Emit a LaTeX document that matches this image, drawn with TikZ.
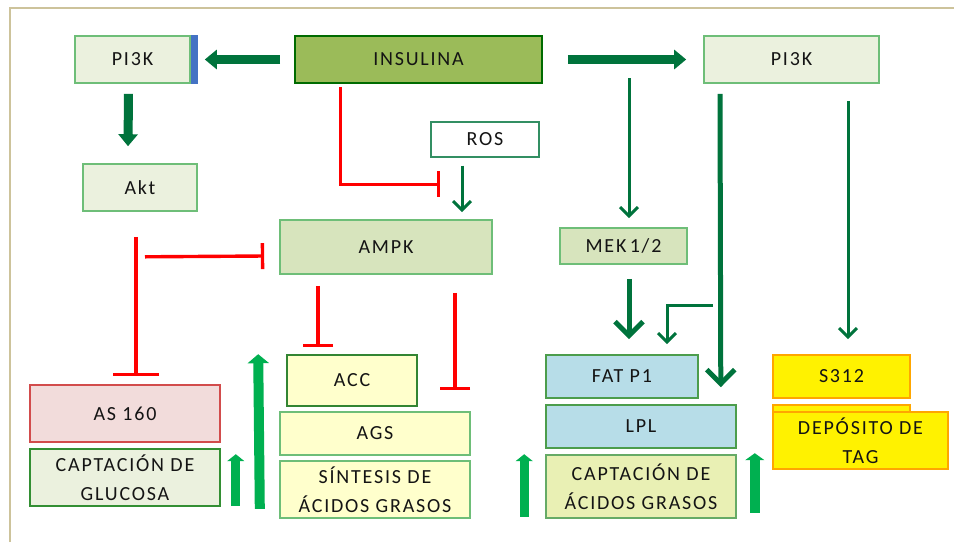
\documentclass[tikz,border=0pt]{standalone}
\usepackage{fontspec}
\setmainfont{Carlito}[LetterSpace=9]
\usetikzlibrary{arrows.meta,calc}
\definecolor{frameC}{RGB}{205,195,155}
\definecolor{dkg}{RGB}{0,115,60}
\definecolor{brg}{RGB}{0,176,80}
\definecolor{bord}{RGB}{110,190,120}
\definecolor{paleg}{RGB}{235,241,222}
\definecolor{olive}{RGB}{155,187,89}
\definecolor{ampkC}{RGB}{215,228,189}
\definecolor{pinkC}{RGB}{242,220,219}
\definecolor{yelC}{RGB}{255,255,204}
\definecolor{blueC}{RGB}{183,221,232}
\definecolor{ygC}{RGB}{233,240,180}
\definecolor{barC}{RGB}{68,114,196}
\definecolor{txt}{RGB}{20,20,20}
\tikzset{
  box/.style={draw=bord, line width=1.6pt, inner sep=0pt, align=center, text=txt,
    font=\fontsize{20}{29}\selectfont},
  inh/.style={draw=red, line width=3.4pt, -{Bar[width=26pt]}},
  bigarr/.style={draw=dkg, line width=9pt, -{Triangle[length=12pt,width=19pt]}},
  thinarr/.style={draw=dkg, line width=3pt, -{Straight Barb[length=9pt,width=18pt]}},
  medarr/.style={draw=dkg, line width=5pt, -{Straight Barb[length=14pt,width=28pt]}},
  uparr/.style={draw=brg, line width=9pt, -{Triangle[length=7pt,width=17pt]}},
}
\begin{document}
\begin{tikzpicture}[x=1pt,y=-1pt]
\useasboundingbox (0,0) rectangle (954,542);
\draw[frameC, line width=1.5pt] (10,542) -- (10,8) -- (954,8);
% top row
\node[box, fill=paleg, minimum width=115, minimum height=47] (pi3kL) at (132.5,59.5) {PI3K};
\fill[barC] (pi3kL.north east) rectangle ($(pi3kL.south east)+(7,0)$);
\node[box, fill=olive, draw=black!30!green!60!black, minimum width=247, minimum height=47] (insulina) at (418.5,59.5) {INSULINA};
\node[box, fill=paleg, minimum width=175, minimum height=47] (pi3kR) at (791.5,59.5) {PI3K};
\node[box, fill=paleg, minimum width=114, minimum height=47] (akt) at (140,187.5) {Akt};
\node[box, fill=white, draw=dkg!80, line width=1.2pt, minimum width=108, minimum height=35] (ros) at (485,139.5) {ROS};
\node[box, fill=ampkC, minimum width=212, minimum height=54] (ampk) at (386,247) {AMPK};
\node[box, fill=ampkC, minimum width=127, minimum height=36] (mek) at (623.5,246) {MEK\,1/2};
% bottom left
\node[box, fill=pinkC, draw=red!75!black!70, minimum width=190, minimum height=57] (as160) at (125,413.5) {AS 160};
\node[box, fill=paleg, draw=green!45!black!80, minimum width=190, minimum height=57] (capglu) at (125,477.5) {CAPTACIÓN DE\\GLUCOSA};
\node[box, fill=yelC, draw=green!40!black!80, minimum width=130, minimum height=51] (acc) at (352,380.5) {ACC};
\node[box, fill=yelC, minimum width=190, minimum height=43] (ags) at (375,433.5) {AGS};
\node[box, fill=yelC, minimum width=190, minimum height=57] (sint) at (375,489.5) {SÍNTESIS DE\\ÁCIDOS GRASOS};
% bottom right
\node[box, fill=blueC, draw=green!45!black!70, minimum width=152, minimum height=43] (fatp1) at (622,376.5) {FAT P1};
\node[box, fill=blueC, draw=green!45!black!70, minimum width=190, minimum height=43] (lpl) at (641,426.5) {LPL};
\node[box, fill=ygC, draw=green!45!black!60, minimum width=190, minimum height=63] (capag) at (641,486.5) {CAPTACIÓN DE\\ÁCIDOS GRASOS};
\node[box, fill=yellow, draw=orange!70!yellow, minimum width=137, minimum height=43] (s312) at (841.5,376.5) {S312};
\node[box, fill=yellow, draw=orange!70!yellow, minimum width=137, minimum height=50] (hid) at (841.5,430) {};
\node[box, fill=yellow, draw=orange!70!yellow, minimum width=175, minimum height=57] (depo) at (860.5,440.5) {DEPÓSITO DE\\TAG};
% connectors
\draw[bigarr] ($(insulina.west)+(-14,0)$) -- ($(pi3kL.east)+(14,0)$);
\draw[bigarr] ($(insulina.east)+(25,0)$) -- ($(pi3kR.west)+(-17,0)$);
\draw[bigarr] ($(pi3kL.south)+(-4,10)$) -- ($(akt.north)+(-12,-17)$);
\draw[inh] ($(insulina.south west)+(46,3)$) |- ($(ampk.north)+(54,-35)$);
\draw[thinarr] ($(ros.south)+(-23,8)$) -- ($(ampk.north)+(76,-7)$);
\draw[inh, -{Bar[width=46pt]}] ($(akt.south)+(-4,25)$) -- ($(as160.north)+(11,-8)$);
\draw[inh] ($(akt.south)+(5,45)$) -- ($(ampk.west)+(-15,9)$);
\draw[inh, -{Bar[width=30pt]}] ($(ampk.south)+(-68,11)$) -- ($(acc.north)+(-34,-7)$);
\draw[inh, -{Bar[width=30pt]}] ($(ampk.south)+(69,18)$) -- ($(ags.north)+(80,-21)$);
\draw[thinarr] ($(mek.north)+(5.5,-149)$) -- ($(mek.north)+(5.5,-9)$);
\draw[medarr] ($(mek.south)+(5.5,14)$) -- ($(fatp1.north)+(7,-15)$);
\draw[medarr] ($(pi3kR.south)+(-71.5,10)$) -- ($(lpl.north east)+(-16,-17)$);
\draw[thinarr] ($(fatp1.north)+(91,-49)$) -| ($(fatp1.north)+(45,-10)$);
\draw[thinarr] ($(pi3kR.south)+(56.5,17)$) -- ($(s312.north)+(6.5,-15)$);
\draw[uparr] ($(capglu.south east)+(15,-1)$) -- ($(capglu.north east)+(15,6)$);
\draw[uparr, line width=10pt, -{Triangle[length=9pt,width=21pt]}] ($(capglu.south east)+(39,2)$) -- ($(acc.north west)+(-28,0)$);
\draw[uparr] ($(capag.south west)+(-21,-2)$) -- ($(capag.north west)+(-21,0)$);
\draw[uparr, line width=10pt, -{Triangle[length=7pt,width=19pt]}] ($(capag.south east)+(18,-6)$) -- ($(capag.north east)+(18,-1)$);
\end{tikzpicture}
\end{document}
